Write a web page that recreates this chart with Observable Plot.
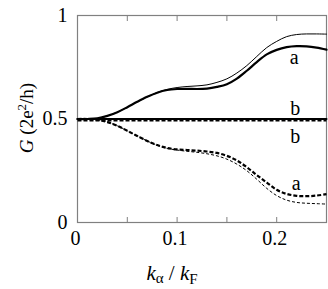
<!DOCTYPE html>
<html>
<head>
<meta charset="utf-8">
<script src="https://cdn.jsdelivr.net/npm/d3@7"></script>
<script src="https://cdn.jsdelivr.net/npm/@observablehq/plot@0.6"></script>
<style>
  html, body { margin: 0; padding: 0; background: #fff; }
  #fontwarm { position: absolute; left: -9999px; top: 0; font-family: "Liberation Serif"; font-size: 20px; }
</style>
</head>
<body>
<div id="fontwarm"><span>0.5</span> <i>G k</i></div>
<div id="chart"></div>
<script>
const kx = [0, 0.01, 0.02, 0.03, 0.04, 0.05, 0.06, 0.07, 0.08, 0.09, 0.10, 0.11, 0.12, 0.13, 0.14, 0.15, 0.16, 0.17, 0.18, 0.19, 0.20, 0.21, 0.22, 0.23, 0.24, 0.25];
const solidThick = [0.5, 0.5, 0.503, 0.515, 0.533, 0.557, 0.583, 0.607, 0.627, 0.640, 0.645, 0.646, 0.645, 0.647, 0.655, 0.668, 0.695, 0.733, 0.775, 0.812, 0.834, 0.847, 0.852, 0.851, 0.845, 0.835];
const solidThin = [0.5, 0.5, 0.503, 0.515, 0.533, 0.557, 0.583, 0.607, 0.628, 0.643, 0.652, 0.657, 0.660, 0.665, 0.677, 0.694, 0.722, 0.758, 0.802, 0.845, 0.875, 0.898, 0.908, 0.911, 0.911, 0.910];
const dashedThick = [0.5, 0.5, 0.497, 0.485, 0.467, 0.443, 0.418, 0.394, 0.374, 0.360, 0.353, 0.350, 0.347, 0.343, 0.336, 0.322, 0.300, 0.267, 0.229, 0.193, 0.158, 0.138, 0.129, 0.127, 0.130, 0.137];
const dashedThin = [0.5, 0.5, 0.497, 0.485, 0.467, 0.443, 0.418, 0.394, 0.373, 0.358, 0.350, 0.344, 0.339, 0.332, 0.322, 0.306, 0.282, 0.250, 0.209, 0.165, 0.130, 0.108, 0.097, 0.093, 0.091, 0.089];
const flatB = kx.map(() => 0.5);

const curveLabels = ["a", "b", "b", "a"];
const labelX = [0.2175, 0.2185, 0.2185, 0.2195];
const labelY = [0.796, 0.551, 0.416, 0.19];

const xTicks = [0, 0.1, 0.2];
const xMinorTicks = [0.05, 0.1, 0.15, 0.2];
const yTicks = [0, 0.5, 1];

const toPts = (ys) => kx.map((x, i) => ({x, y: ys[i]}));
const labels = curveLabels.map((t, i) => ({t, x: labelX[i], y: labelY[i]}));

function draw() {
  const svg = Plot.plot({
    width: 328,
    height: 289,
    marginLeft: 77,
    marginRight: 2,
    marginTop: 15,
    marginBottom: 67,
    style: {fontFamily: "Liberation Serif", fontSize: "20px"},
    x: {domain: [0, 0.25]},
    y: {domain: [0, 1]},
    marks: [
      Plot.axisX({anchor: "bottom", ticks: xMinorTicks, tickSize: -5, stroke: "#808080", text: null, label: null}),
      Plot.axisX({anchor: "top", ticks: xMinorTicks, tickSize: -5, stroke: "#808080", text: null, label: null}),
      Plot.axisX({anchor: "bottom", ticks: xTicks, tickSize: 0, tickPadding: 8, fontSize: 20, tickFormat: d => String(d), label: null, dx: -2}),
      Plot.axisY({anchor: "left", ticks: yTicks, tickSize: 0, tickPadding: 10, fontSize: 20, tickFormat: d => String(d), label: null}),
      Plot.frame({stroke: "#808080", strokeWidth: 1.2}),
      Plot.line(toPts(flatB), {x: "x", y: "y", stroke: "#000", strokeWidth: 2}),
      Plot.line(toPts(flatB), {x: "x", y: "y", stroke: "#000", strokeWidth: 2, strokeDasharray: "4,2", strokeLinecap: "butt", dy: 1.5}),
      Plot.line(toPts(solidThin), {x: "x", y: "y", curve: "catmull-rom", stroke: "#000", strokeWidth: 1}),
      Plot.line(toPts(solidThick), {x: "x", y: "y", curve: "catmull-rom", stroke: "#000", strokeWidth: 2.2}),
      Plot.line(toPts(dashedThin), {x: "x", y: "y", curve: "catmull-rom", stroke: "#000", strokeWidth: 1, strokeDasharray: "3,2", strokeLinecap: "butt"}),
      Plot.line(toPts(dashedThick), {x: "x", y: "y", curve: "catmull-rom", stroke: "#000", strokeWidth: 2.2, strokeDasharray: "4,2", strokeLinecap: "butt"}),
      Plot.text(labels, {x: "x", y: "y", text: "t", fontSize: 20, fill: "#000"})
    ]
  });

  const s = d3.select(svg);
  const yl = s.append("text")
    .attr("transform", "translate(33,118) rotate(-90)")
    .attr("text-anchor", "middle")
    .attr("font-size", 19)
    .attr("fill", "#000");
  yl.append("tspan").attr("font-style", "italic").text("G");
  yl.append("tspan").text(" (2e");
  yl.append("tspan").attr("font-size", 13).attr("dy", -7).text("2");
  yl.append("tspan").attr("dy", 7).text("/h)");

  const xl = s.append("text")
    .attr("x", 172)
    .attr("y", 280)
    .attr("font-size", 21)
    .attr("fill", "#000");
  xl.append("tspan").attr("font-style", "italic").text("k");
  xl.append("tspan").attr("font-size", 15).attr("dy", 3).text("α");
  xl.append("tspan").attr("dy", -3).text(" / ");
  xl.append("tspan").attr("font-style", "italic").text("k");
  xl.append("tspan").attr("font-size", 15).attr("dy", 4).text("F");

  svg.querySelectorAll("text").forEach(t => t.setAttribute("font-family", "Liberation Serif"));
  const host = document.getElementById("chart");
  host.replaceChildren(svg);
  svg.querySelectorAll("text").forEach(t => t.getBBox());
}

draw();
if (document.fonts && document.fonts.load) {
  Promise.all([
    document.fonts.load("20px 'Liberation Serif'"),
    document.fonts.load("italic 20px 'Liberation Serif'")
  ]).then(draw, () => {});
}
</script>
</body>
</html>
